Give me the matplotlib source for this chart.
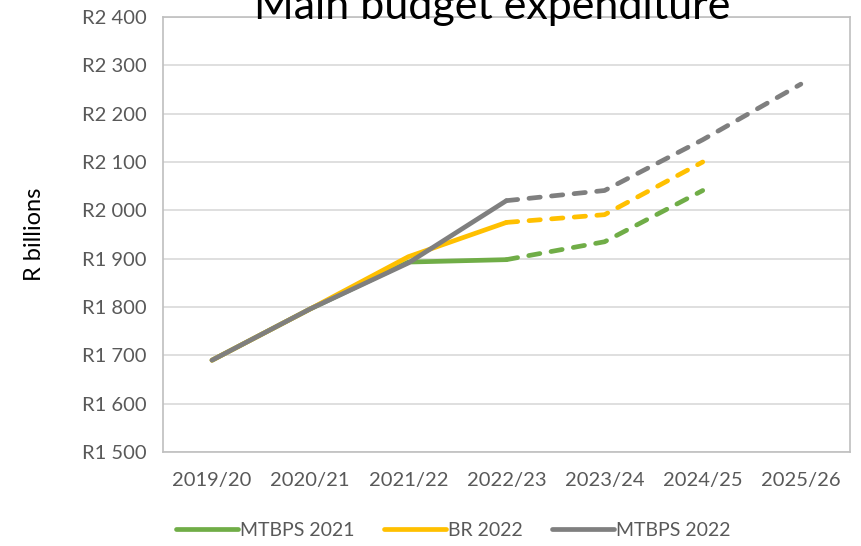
import matplotlib
matplotlib.use("Agg")
import matplotlib.pyplot as plt
import numpy as np
from matplotlib.lines import Line2D

years = ["2019/20", "2020/21", "2021/22", "2022/23", "2023/24", "2024/25", "2025/26"]
mtbps_2021 = [1690, 1796, 1893, 1898, 1935, 2041, np.nan]
br_2022 = [1690, 1796, 1904, 1975, 1991, 2100, np.nan]
mtbps_2022 = [1690, 1796, 1891, 2020, 2041, 2146, 2261]
yticks = list(range(1500, 2401, 100))
split = 3  # estimates are dashed from 2022/23 onward

plt.rcParams['font.family'] = ['Lato', 'DejaVu Sans']

fig = plt.figure(figsize=(8.62, 5.46), dpi=100)
ax = fig.add_axes([0.189, 0.172, 0.797, 0.797])

x = np.arange(len(years))
series = [
    ("MTBPS 2021", mtbps_2021, "#70AD47"),
    ("BR 2022", br_2022, "#FFC000"),
    ("MTBPS 2022", mtbps_2022, "#7F7F7F"),
]
handles = []
for name, vals, col in series:
    v = np.array(vals, dtype=float)
    ax.plot(x[:split + 1], v[:split + 1], color=col, lw=3.4, solid_capstyle='round')
    ax.plot(x[split:], v[split:], color=col, lw=3.4, linestyle=(0, (2.4, 2.4)),
            dash_capstyle='round')
    handles.append(Line2D([0], [0], color=col, lw=3.4, solid_capstyle='round'))

ax.set_xlim(-0.5, len(years) - 0.5)
ax.set_ylim(1500, 2400)
ax.set_xticks(x)
ax.set_xticklabels(years)
ax.set_yticks(yticks)
ax.set_yticklabels(["R{} {:03d}".format(t // 1000, t % 1000) for t in yticks])
ax.tick_params(length=0, labelsize=14.5, labelcolor="#595959")
ax.tick_params(axis='x', pad=14)
ax.tick_params(axis='y', pad=12)
ax.grid(axis='y', color="#D9D9D9", lw=1.2)
ax.set_axisbelow(True)
for s in ax.spines.values():
    s.set_color("#BFBFBF")
    s.set_linewidth(1.2)

ax.set_ylabel("R billions", fontsize=17, labelpad=26)
fig.text(0.571, 0.988, "Main budget expenditure", fontsize=31, ha='center', va='center')

fig.legend(handles, [s[0] for s in series], loc='center', ncol=3, frameon=False,
           bbox_to_anchor=(0.526, 0.028), fontsize=14, handlelength=3.2,
           handletextpad=0.1, columnspacing=1.5, labelcolor="#595959")

fig.savefig("out.png", dpi=100)
